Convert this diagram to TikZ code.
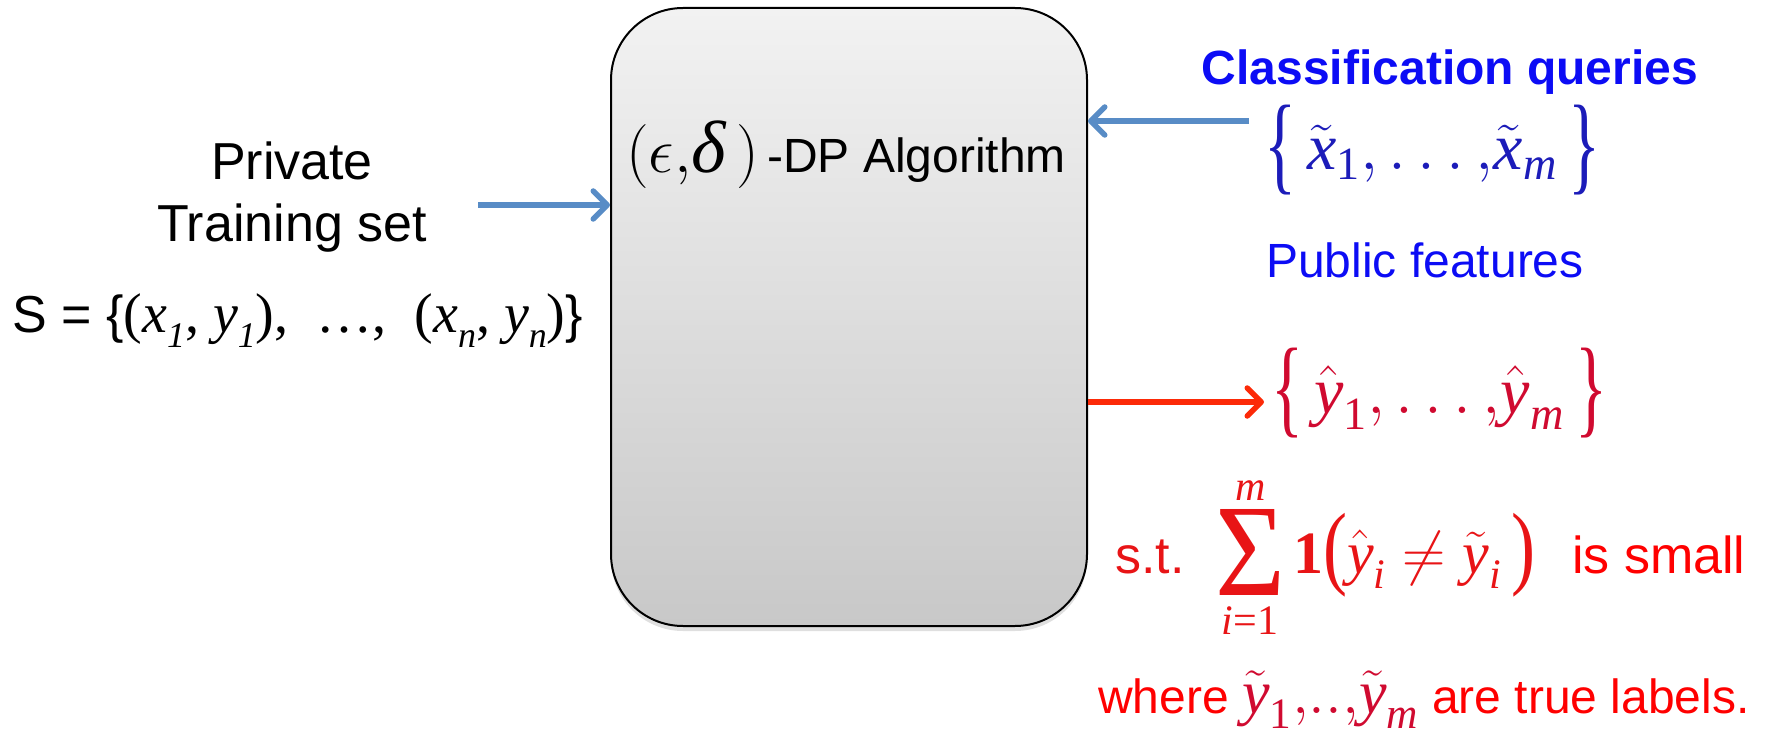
\RequirePackage{fix-cm}
\documentclass[tikz,border=0pt]{standalone}
\usepackage{amsmath}
\usepackage{graphicx}
\usepackage[no-math]{fontspec}
\newfontfamily\arial{Liberation Sans}
\newfontfamily\tms{Liberation Serif}
\usetikzlibrary{arrows.meta,shadows}
\definecolor{arrblue}{RGB}{88,140,198}
\definecolor{arrred}{RGB}{252,42,8}
\definecolor{qblue}{RGB}{12,12,245}
\definecolor{setblue}{RGB}{28,28,185}
\definecolor{txtred}{RGB}{255,0,0}
\definecolor{mathred}{RGB}{232,20,22}
\definecolor{setred}{RGB}{208,10,48}
\definecolor{boxtop}{RGB}{242,242,242}
\definecolor{boxbot}{RGB}{200,200,200}
\newcommand\mi[1]{\text{\tms\itshape #1}}
\newcommand\mr[1]{\text{\tms #1}}
\newcommand\fs[1]{\fontsize{#1}{#1}\selectfont}
\newcommand\lsub[1]{\raisebox{-0.28em}{\fontsize{36}{36}\selectfont #1}}
% tall braces / parentheses made from Liberation Serif glyphs
\newcommand\tbr[1]{\raisebox{-25pt}{\resizebox{32pt}{90pt}{\raisebox{\depth}{\tms #1}}}}
\newcommand\tpar[1]{\raisebox{-24pt}{\resizebox{24pt}{84pt}{\raisebox{\depth}{\tms #1}}}}
\begin{document}
\begin{tikzpicture}[x=1pt,y=-1pt,
  lbl/.style={inner sep=0pt, font=\arial},
  flow/.style={line width=5.5pt, -{Straight Barb[length=14pt,width=28pt,round]}}
]
\useasboundingbox (0,0) rectangle (1775,730);
% algorithm box
\node[draw=black, line width=2pt, rounded corners=72pt, minimum width=476pt,
      minimum height=618pt, inner sep=0pt, top color=boxtop, bottom color=boxbot,
      drop shadow={opacity=0.25, shadow xshift=0pt, shadow yshift=-5pt}]
      (alg) at (849,317) {};
\node[lbl, anchor=base west] (algl) at (626,173)
  {{\fs{64}$(\epsilon{,}\text{\tms\itshape\fs{74}δ}\,)$}{\fs{48}\,-DP Algorithm}};
% left side
\node[lbl, anchor=base] (priv) at (292,180) {\fs{52}Private};
\node[lbl, anchor=base] (train) at (292,242) {\fs{52}Training set};
\node[lbl, anchor=base west] (sset) at (12,332)
  {\fs{52}S = \{{\tms\fs{56}(\textit{x}\lsub{\textit{1}}, \textit{y}\lsub{\textit{1}}),\ \ \dots,\ \ (\textit{x}\lsub{\textit{n}}, \textit{y}\lsub{\textit{n}})}\}};
\coordinate (lsrc) at (478,205);
\draw[flow, arrblue] (lsrc) -- (lsrc -| alg.west);
% queries
\node[lbl, anchor=base, text=qblue] (cq) at (1450,85) {\fs{48}\bfseries Classification queries};
\node[lbl, anchor=base west, text=setblue] (xset) at (1264,170)
  {\fs{66}\tbr{\{}\,$\tilde{\mi{x}}_{\mr{1}}{,}\ldots{,}\tilde{\mi{x}}_{\mi{m}}$\,\tbr{\}}};
\coordinate (qsrc) at (1249,121);
\draw[flow, arrblue] (qsrc) -- (qsrc -| alg.east);
\node[lbl, anchor=base, text=qblue] (pf) at (1425,277) {\fs{48}Public features};
% output
\node[lbl, anchor=base west, text=setred] (yset) at (1271,413)
  {\fs{66}\tbr{\{}\,$\hat{\mi{y}}_{\mr{1}}{,}\ldots{,}\hat{\mi{y}}_{\mi{m}}$\,\tbr{\}}};
\coordinate (ydst) at (1264,402);
\draw[flow, arrred] (ydst -| alg.east) -- (ydst);
% condition
\node[lbl, anchor=base west, text=mathred] (st) at (1115,573) {\fs{52}s.t.};
\node[lbl, anchor=south, text=mathred] (sum) at (1250,596)
  {\resizebox{70pt}{86pt}{\tms Σ}};
\node[lbl, anchor=base, text=mathred] (sumtop) at (1251,500) {\tms\itshape\fs{42}m};
\node[lbl, anchor=base, text=mathred] (sumbot) at (1250,634)
  {\tms\fs{42}\textit{i}=1};
\node[lbl, anchor=base west, text=mathred] (ind) at (1293,573)
  {\fs{60}{\tms\bfseries 1}\tpar{(}$\hat{\mi{y}}_{\mi{i}}\neq\tilde{\mi{y}}_{\mi{i}}$\,\tpar{)}};
\node[lbl, anchor=base west, text=txtred] (small) at (1572,573) {\fs{52}is small};
\node[lbl, anchor=base west, text=txtred] (where) at (1098,713)
  {\fs{48}where {\color{setred}\fs{62}$\tilde{\mi{y}}_{\mr{1}}{,}..{,}\tilde{\mi{y}}_{\mi{m}}$} are true labels.};
\end{tikzpicture}
\end{document}
